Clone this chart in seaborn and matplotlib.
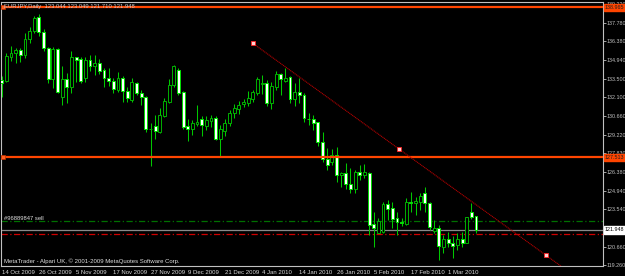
import numpy as np
import pandas as pd
import matplotlib
matplotlib.use("Agg")
import matplotlib.pyplot as plt
import matplotlib.transforms as mtransforms
import seaborn as sns

# ---------------- data ----------------
chart_title = "EURJPY,Daily  123.044 123.049 121.710 121.948"
order_label = "#96889847 sell"
copyright_text = "MetaTrader - Alpari UK, \u00a9 2001-2009 MetaQuotes Software Corp."

opens = [133.41, 133.33, 135.17, 135.47, 135.70, 135.32, 136.54, 137.16, 138.23, 137.08,
         135.86, 133.49, 135.78, 132.11, 133.49, 132.88, 135.17, 135.02, 133.56, 134.94,
         134.48, 134.71, 134.17, 133.56, 133.33, 132.65, 133.56, 132.57, 131.88, 133.18,
         132.42, 132.11, 129.66, 129.89, 129.44, 130.66, 131.73, 133.03, 134.17, 132.49,
         129.89, 129.66, 130.05, 130.43, 129.89, 130.28, 130.51, 128.90, 129.51, 130.12,
         130.89, 131.19, 131.58, 131.65, 131.96, 132.42, 133.10, 133.18, 131.65, 132.88,
         133.87, 133.33, 133.64, 131.96, 132.49, 132.26, 130.45, 130.43, 130.20, 128.67,
         127.37, 127.14, 127.68, 126.15, 126.30, 125.46, 125.08, 126.38, 126.15, 126.30,
         122.40, 121.71, 121.79, 123.93, 123.62, 122.86, 122.55, 122.40, 124.08, 124.01,
         124.08, 124.77, 124.01, 121.87, 122.10, 120.64, 121.25, 120.95, 120.80, 121.25,
         120.95, 123.32, 123.044]
highs = [133.72, 135.47, 136.01, 135.86, 135.86, 137.00, 137.46, 138.30, 138.46, 137.31,
         135.93, 135.93, 135.86, 134.48, 133.95, 135.63, 135.17, 135.17, 135.17, 135.32,
         135.32, 135.02, 134.33, 134.33, 133.56, 134.02, 133.72, 132.88, 133.56, 133.26,
         132.65, 132.19, 130.12, 130.73, 131.27, 132.03, 133.49, 134.56, 134.33, 132.57,
         130.43, 130.35, 131.50, 130.66, 130.66, 130.73, 130.66, 129.97, 130.43, 131.12,
         131.58, 131.81, 131.96, 132.57, 132.65, 133.64, 133.79, 133.41, 133.26, 134.10,
         133.95, 134.33, 133.72, 133.18, 133.56, 132.42, 130.89, 130.73, 130.20, 129.44,
         128.21, 128.14, 128.29, 126.38, 127.06, 126.68, 126.53, 126.91, 126.99, 126.38,
         123.32, 122.86, 124.08, 124.24, 124.08, 123.32, 122.86, 124.39, 124.85, 124.47,
         124.77, 125.23, 124.08, 122.71, 122.33, 121.56, 121.79, 121.48, 121.71, 121.79,
         122.94, 124.01, 123.049]
lows = [132.11, 133.26, 134.86, 134.71, 134.79, 135.09, 136.24, 137.00, 136.77, 135.63,
        133.18, 132.80, 132.42, 131.50, 131.65, 132.42, 133.26, 133.18, 133.26, 134.10,
        133.79, 133.87, 132.88, 132.95, 132.42, 132.49, 131.73, 131.73, 131.73, 132.26,
        131.50, 129.44, 126.84, 128.90, 129.36, 130.58, 131.65, 132.88, 132.26, 129.66,
        128.75, 129.21, 129.89, 129.13, 129.59, 129.82, 128.82, 127.52, 129.13, 129.89,
        130.51, 130.81, 131.35, 131.42, 131.73, 132.26, 132.34, 131.42, 131.19, 132.65,
        132.26, 133.26, 131.65, 131.42, 131.65, 130.20, 129.97, 129.59, 128.36, 127.14,
        126.53, 126.91, 125.61, 125.23, 125.08, 124.77, 124.77, 125.77, 125.92, 121.56,
        120.64, 121.71, 121.71, 122.71, 122.10, 121.56, 122.25, 122.33, 123.32, 123.09,
        123.47, 123.32, 121.94, 121.71, 119.65, 120.18, 120.64, 119.80, 120.41, 120.64,
        120.95, 122.78, 121.710]
closes = [133.18, 135.25, 135.47, 135.70, 135.32, 136.54, 137.16, 138.15, 137.08, 135.86,
          133.49, 135.78, 132.49, 133.49, 132.88, 135.17, 134.94, 133.33, 134.94, 134.48,
          134.71, 134.10, 133.56, 133.33, 132.72, 133.56, 132.57, 132.03, 133.26, 132.42,
          132.11, 129.66, 129.70, 129.51, 130.73, 131.81, 133.03, 134.48, 132.42, 129.82,
          129.66, 130.12, 130.20, 129.97, 130.35, 130.51, 128.90, 129.66, 130.12, 130.89,
          131.27, 131.50, 131.73, 132.03, 132.49, 133.49, 133.18, 131.65, 132.95, 133.87,
          133.49, 133.56, 131.96, 132.49, 132.26, 130.51, 130.41, 130.12, 128.67, 127.37,
          126.91, 127.68, 126.15, 126.30, 125.46, 125.08, 126.38, 126.15, 126.38, 122.33,
          122.10, 122.63, 123.93, 123.55, 122.78, 122.55, 122.48, 124.08, 124.01, 124.16,
          124.54, 124.01, 122.17, 122.10, 120.72, 121.25, 120.95, 120.72, 121.25, 120.95,
          122.94, 122.94, 121.948]

date_labels = ["14 Oct 2009", "26 Oct 2009", "5 Nov 2009", "17 Nov 2009", "27 Nov 2009",
               "9 Dec 2009", "21 Dec 2009", "4 Jan 2010", "14 Jan 2010", "26 Jan 2010",
               "5 Feb 2010", "17 Feb 2010", "1 Mar 2010"]
date_bar_index = [0, 8, 16, 24, 32, 40, 48, 56, 64, 72, 80, 88, 96]

price_ticks = [139.220, 137.780, 136.380, 134.940, 133.500, 132.100, 130.660,
               129.220, 127.830, 126.380, 124.940, 123.540, 120.660, 119.260]

level_prices = [138.965, 127.513]
bid_price = 121.948
order_price = 122.65
target_price = 121.64
trend_bars = [54, 85.5, 117]
trend_prices = [136.215, 128.1175, 120.02]

# ---------------- style ----------------
sns.set_theme(style="dark", rc={"axes.facecolor": "black", "figure.facecolor": "black"})
plt.rcParams["font.family"] = ["Liberation Sans", "DejaVu Sans"]

W, H = 625, 276
fig = plt.figure(figsize=(W / 100, H / 100), dpi=100, facecolor="black")
ax = fig.add_axes([1 / W, 10 / H, 602 / W, 264 / H])
ax.set_facecolor("black")

n = len(opens)
df = pd.DataFrame({"bar": np.arange(n), "open": opens, "high": highs,
                   "low": lows, "close": closes})
df["bull"] = df["close"] >= df["open"]

GRID = "#c0c0c0"
LIME = "#00e000"
TICK_FS = 3.9

# wicks
ax.vlines(df["bar"], df["low"], df["high"], color="#00c800", lw=0.75, zorder=3)
# bodies
bottom = np.minimum(df["open"], df["close"])
height = np.maximum(np.abs(df["close"] - df["open"]), 0.04)
face = np.where(df["bull"], "black", "white")
edge = np.where(df["bull"], "#00b000", LIME)
ax.bar(df["bar"], height, bottom=bottom, width=0.62, color=face,
       edgecolor=edge, linewidth=0.7, zorder=4)

# horizontal levels
for lv in level_prices:
    ax.axhline(lv, color="#ff4500", lw=1.6, zorder=5)
    ax.plot([0.3], [lv], marker="s", ms=2.6, mfc="#ff6020", mec="#c03000",
            mew=0.5, zorder=6, clip_on=False)
ax.axhline(order_price, color="#007000", lw=0.9, ls=(0, (5, 2, 1, 2)), zorder=2)
ax.axhline(target_price, color="#d00000", lw=0.9, ls=(0, (5, 2, 1, 2)), zorder=2)
ax.axhline(bid_price, color="#8a8a8a", lw=0.9, zorder=2)

# trend line (ray)
slope = (trend_prices[-1] - trend_prices[0]) / (trend_bars[-1] - trend_bars[0])
ray_x = [trend_bars[0], 140]
ray_y = [trend_prices[0], trend_prices[0] + slope * (140 - trend_bars[0])]
sns.lineplot(x=ray_x, y=ray_y, ax=ax, color="#b00000", lw=0.8,
             linestyle=(0, (1, 0.6)), zorder=5)
ax.plot(trend_bars, trend_prices, ls="none", marker="s", ms=2.6,
        mfc="#ffd0d0", mec="#ff2020", mew=0.6, zorder=7)

# axes limits (bar 0 at pixel ~1.7, 4.65 px per bar)
ax.set_xlim(-0.15, 129.3)
ax.set_ylim(119.19, 139.373)

# spines
for s in ax.spines.values():
    s.set_color(GRID)
    s.set_linewidth(0.8)
ax.grid(False)

# y ticks on right
ax.yaxis.tick_right()
ax.set_yticks(price_ticks)
ax.set_yticklabels([f"{p:.3f}" for p in price_ticks])
ax.tick_params(axis="y", colors=GRID, labelcolor=GRID, labelsize=TICK_FS,
               length=1.8, width=0.6, pad=0.6, direction="out", right=True, left=False)
# x ticks
ax.set_xticks(date_bar_index)
ax.set_xticklabels(date_labels)
ax.tick_params(axis="x", colors=GRID, labelcolor="#d8d8d8", labelsize=4.3,
               length=2, width=0.6, pad=0.8, direction="out")
for lbl in ax.get_xticklabels():
    lbl.set_horizontalalignment("left")

# right-axis price boxes
trans = mtransforms.blended_transform_factory(ax.transAxes, ax.transData)
for lv in level_prices:
    ax.text(1.003, lv, f"{lv:.3f}", transform=trans, ha="left", va="center",
            fontsize=TICK_FS, color="#202020", zorder=10, clip_on=False,
            bbox=dict(boxstyle="square,pad=0.2", fc="#ff4500", ec="#ff4500"))
ax.text(1.003, bid_price, f"{bid_price:.3f}", transform=trans, ha="left", va="center",
        fontsize=TICK_FS, color="black", zorder=10, clip_on=False,
        bbox=dict(boxstyle="square,pad=0.2", fc="white", ec="white"))

# texts
fig.text(4 / W, 1 - 6.5 / H, chart_title, color="#c8c8c8", fontsize=4.2,
         ha="left", va="center")
fig.text(4 / W, 1 - 218 / H, order_label, color="#e0e0e0", fontsize=4.2,
         ha="left", va="center")
fig.text(4 / W, 1 - 261 / H, copyright_text, color="#e0e0e0", fontsize=4.3,
         ha="left", va="center")

fig.savefig("out.png", dpi=100, facecolor="black")
